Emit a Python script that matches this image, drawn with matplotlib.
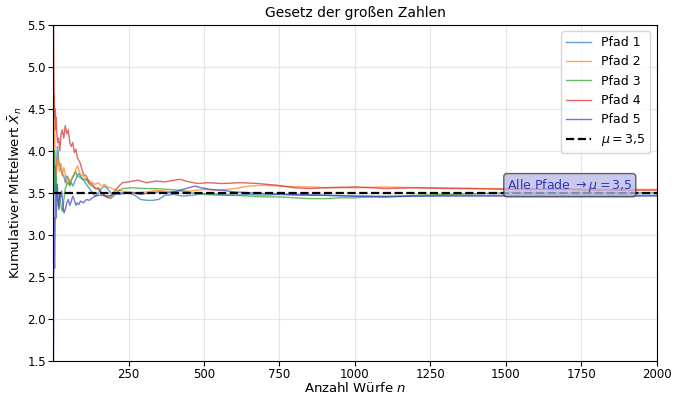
import matplotlib
matplotlib.use("Agg")
import matplotlib.pyplot as plt

# values (cumulative mean after n throws)
n_p1 = [1, 2, 3, 4, 5, 6, 8, 10, 12, 14, 16, 18, 20, 25, 30, 35, 40, 45, 50, 55, 60, 65, 70, 75, 80,
        85, 90, 100, 110, 120, 130, 140, 150, 160, 170, 180, 190, 200, 220, 250, 270, 290, 310, 330,
        350, 370, 400, 430, 460, 500, 550, 600, 650, 700, 750, 800, 900, 1000, 1100, 1200, 1300, 1400,
        1500, 1600, 1700, 1800, 1900, 2000]
p1 = [3.0, 4.0, 3.67, 3.5, 3.8, 3.67, 3.5, 3.73, 3.9, 4.05, 4.0, 3.9, 3.85, 3.8, 3.72, 3.7, 3.62, 3.7,
      3.68, 3.6, 3.62, 3.58, 3.62, 3.66, 3.7, 3.73, 3.7, 3.66, 3.6, 3.55, 3.5, 3.46, 3.5, 3.55, 3.58,
      3.55, 3.5, 3.49, 3.48, 3.5, 3.47, 3.42, 3.41, 3.41, 3.42, 3.47, 3.48, 3.46, 3.47, 3.49, 3.48,
      3.47, 3.48, 3.47, 3.48, 3.47, 3.47, 3.46, 3.46, 3.46, 3.47, 3.47, 3.47, 3.47, 3.47, 3.47, 3.47, 3.47]

n_p2 = [1, 2, 3, 4, 5, 6, 8, 10, 12, 15, 18, 22, 26, 30, 35, 40, 45, 50, 55, 60, 65, 70, 75, 80, 85,
        90, 100, 110, 120, 130, 140, 150, 160, 170, 180, 190, 200, 215, 230, 250, 280, 310, 340, 370,
        400, 450, 500, 550, 600, 650, 700, 750, 800, 850, 900, 1000, 1100, 1200, 1300, 1400, 1500,
        1600, 1700, 1800, 1900, 2000]
p2 = [4.0, 4.5, 4.67, 4.5, 4.2, 4.0, 3.9, 3.7, 3.8, 3.95, 3.8, 3.75, 3.85, 3.7, 3.8, 3.72, 3.6, 3.68,
      3.62, 3.66, 3.7, 3.72, 3.78, 3.82, 3.77, 3.72, 3.7, 3.66, 3.64, 3.62, 3.6, 3.62, 3.58, 3.6, 3.57,
      3.56, 3.54, 3.53, 3.52, 3.51, 3.5, 3.51, 3.53, 3.52, 3.51, 3.52, 3.54, 3.53, 3.55, 3.58, 3.59,
      3.58, 3.57, 3.57, 3.56, 3.56, 3.57, 3.56, 3.56, 3.55, 3.55, 3.55, 3.55, 3.54, 3.54, 3.54]

n_p3 = [1, 2, 3, 4, 5, 6, 8, 10, 12, 15, 18, 22, 25, 28, 31, 35, 40, 45, 50, 55, 60, 65, 70, 75, 80,
        90, 100, 110, 120, 130, 140, 150, 160, 170, 180, 190, 200, 215, 230, 260, 300, 340, 380, 420,
        460, 500, 550, 600, 650, 700, 750, 800, 850, 900, 950, 1000, 1050, 1100, 1200, 1300, 1400,
        1500, 1600, 1700, 1800, 1900, 2000]
p3 = [4.0, 3.5, 4.0, 3.75, 3.6, 3.83, 3.5, 3.7, 3.5, 3.4, 3.33, 3.5, 3.38, 3.3, 3.28, 3.4, 3.55, 3.6,
      3.62, 3.58, 3.65, 3.68, 3.72, 3.75, 3.7, 3.68, 3.65, 3.66, 3.6, 3.58, 3.55, 3.54, 3.5, 3.47,
      3.45, 3.43, 3.46, 3.52, 3.55, 3.56, 3.55, 3.55, 3.54, 3.53, 3.5, 3.48, 3.47, 3.47, 3.46, 3.45,
      3.45, 3.44, 3.43, 3.43, 3.44, 3.44, 3.45, 3.45, 3.47, 3.48, 3.49, 3.5, 3.5, 3.5, 3.5, 3.5, 3.5]

n_p4 = [1, 2, 3, 4, 5, 6, 8, 10, 12, 15, 18, 22, 26, 30, 35, 40, 45, 50, 55, 60, 65, 70, 75, 80, 90,
        100, 110, 120, 130, 140, 150, 160, 170, 180, 190, 200, 215, 230, 250, 280, 310, 340, 370, 400,
        420, 450, 480, 510, 560, 620, 680, 740, 800, 850, 900, 1000, 1100, 1200, 1300, 1400, 1500,
        1600, 1700, 1800, 1900, 2000]
p4 = [6.0, 5.0, 4.67, 4.5, 4.4, 4.5, 4.25, 4.4, 4.2, 4.1, 4.15, 4.0, 4.2, 4.25, 4.15, 4.3, 4.2, 4.25,
      4.1, 4.05, 4.1, 3.98, 4.02, 3.92, 3.85, 3.72, 3.7, 3.62, 3.6, 3.55, 3.56, 3.5, 3.47, 3.44, 3.45,
      3.5, 3.57, 3.62, 3.63, 3.65, 3.62, 3.64, 3.63, 3.65, 3.66, 3.63, 3.61, 3.62, 3.61, 3.62, 3.61,
      3.59, 3.56, 3.55, 3.56, 3.57, 3.55, 3.56, 3.55, 3.55, 3.54, 3.54, 3.54, 3.53, 3.53, 3.53]

n_p5 = [1, 2, 3, 4, 5, 6, 7, 8, 9, 10, 12, 14, 16, 18, 20, 22, 25, 28, 30, 33, 36, 40, 45, 50, 55,
        60, 65, 70, 75, 80, 85, 90, 100, 110, 120, 130, 140, 150, 160, 175, 190, 210, 230, 260, 290,
        320, 350, 380, 410, 440, 470, 490, 520, 560, 600, 650, 700, 800, 900, 1000, 1100, 1200, 1300,
        1400, 1500, 1600, 1700, 1800, 1900, 2000]
p5 = [1.0, 3.0, 3.2, 2.65, 2.6, 3.0, 3.29, 3.5, 3.33, 3.2, 3.5, 3.6, 3.45, 3.3, 3.35, 3.5, 3.45, 3.52,
      3.45, 3.33, 3.26, 3.3, 3.38, 3.42, 3.35, 3.4, 3.46, 3.42, 3.35, 3.38, 3.36, 3.4, 3.38, 3.42,
      3.41, 3.44, 3.46, 3.47, 3.47, 3.46, 3.47, 3.49, 3.5, 3.5, 3.48, 3.5, 3.51, 3.5, 3.52, 3.55,
      3.58, 3.56, 3.54, 3.53, 3.51, 3.5, 3.49, 3.48, 3.47, 3.46, 3.45, 3.46, 3.46, 3.46, 3.46, 3.46,
      3.46, 3.46, 3.46, 3.46]

paths = [(n_p1, p1), (n_p2, p2), (n_p3, p3), (n_p4, p4), (n_p5, p5)]
labels = ["Pfad 1", "Pfad 2", "Pfad 3", "Pfad 4", "Pfad 5"]
colors = ["#1f77b4", "#ff7f0e", "#2ca02c", "#d62728", "#3b3bbf"]
MU = 3.5
N_MAX = 2000

fig, ax = plt.subplots(figsize=(6.77, 3.95), dpi=100)
fig.subplots_adjust(left=0.079, right=0.970, top=0.937, bottom=0.087)

for (n, vals), lab, col in zip(paths, labels, colors):
    ax.plot(n, vals, color=col, linewidth=1.0, alpha=0.7, label=lab)

ax.axhline(MU, color="black", linestyle="--", linewidth=1.6, label=r"$\mu = 3{,}5$")

ax.annotate(r"Alle Pfade $\to \mu = 3{,}5$", xy=(1712, 3.59), ha="center", va="center",
            fontsize=9, color="#3333bb",
            bbox=dict(boxstyle="round,pad=0.25", facecolor="#b8b8e6", edgecolor="#333333",
                      alpha=0.75))

ax.set_xlim(1, N_MAX)
ax.set_ylim(1.5, 5.5)
ax.set_xticks([250, 500, 750, 1000, 1250, 1500, 1750, 2000])
ax.tick_params(labelsize=8.5, pad=2)
ax.grid(alpha=0.3)
ax.set_title("Gesetz der großen Zahlen", fontsize=10)
ax.set_xlabel(r"Anzahl Würfe $n$", fontsize=9.5, labelpad=0)
ax.set_ylabel(r"Kumulativer Mittelwert $\bar{X}_n$", fontsize=9.5, labelpad=2)
ax.legend(loc="upper right", fontsize=9)

plt.savefig("out.png", dpi=100)
plt.close()
